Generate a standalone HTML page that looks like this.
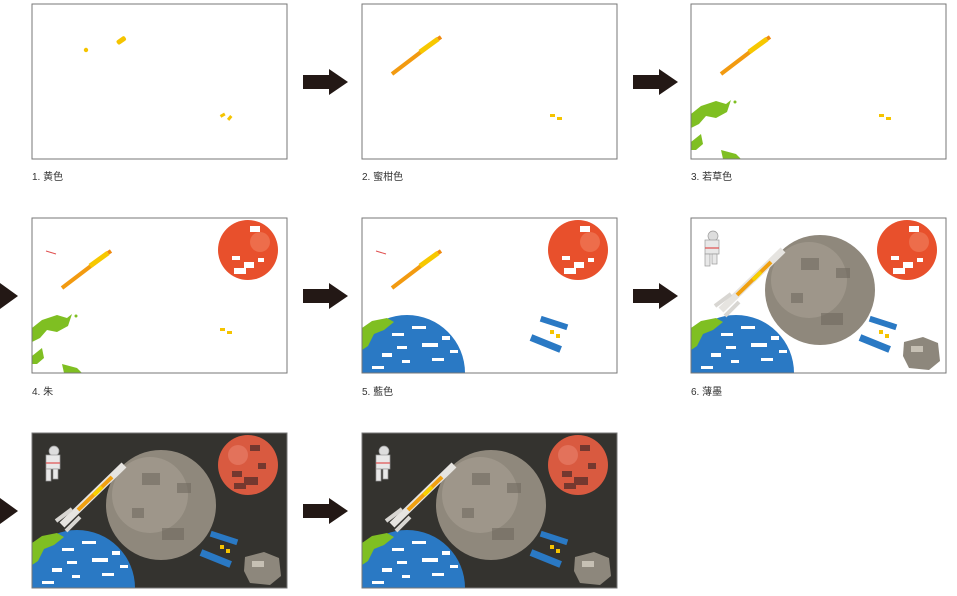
<!DOCTYPE html>
<html><head><meta charset="utf-8"><style>
html,body{margin:0;padding:0;background:#fff;width:957px;height:596px;overflow:hidden}
svg{display:block;position:absolute;left:0;top:0}
text{font-family:"Liberation Sans","Noto Sans CJK JP",sans-serif;font-size:10px;fill:#333}
</style></head><body>
<svg width="957" height="596" viewBox="0 0 957 596" xmlns="http://www.w3.org/2000/svg">
<defs>
<clipPath id="pc"><rect x="0" y="0" width="255" height="155"/></clipPath>
<g id="ybits">
<rect x="84" y="34" width="10" height="5" rx="2" fill="#f5c400" transform="rotate(-35 89 36)"/>
<circle cx="54" cy="46" r="2.2" fill="#f5c400"/>
<rect x="188" y="110" width="5" height="3" fill="#f5c400" transform="rotate(-30 190 111)"/>
<rect x="195" y="113" width="5" height="3" fill="#f5c400" transform="rotate(-50 197 114)"/>
</g>
<g id="rocketS">
<line x1="30" y1="70" x2="72" y2="38" stroke="#f29a10" stroke-width="4"/>
<line x1="58" y1="48" x2="76" y2="35" stroke="#f7c800" stroke-width="5"/>
<line x1="76" y1="35" x2="79" y2="33" stroke="#f08a10" stroke-width="4"/>
</g>
<g id="green">
<path d="M0 110 L10 102 L25 97 L35 100 L40 96 L36 108 L25 114 L15 112 L8 120 L0 124Z" fill="#7fbf22"/>
<path d="M0 138 L10 130 L12 140 L5 146 L0 146Z" fill="#7fbf22"/>
<path d="M30 146 L45 150 L50 155 L32 155Z" fill="#7fbf22"/>
<circle cx="44" cy="98" r="1.5" fill="#7fbf22"/>
</g>
<g id="mars">
<circle cx="216" cy="32" r="30" fill="#e8502c"/>
<path d="M200 38 h8 v4 h-8z M212 44 h10 v6 h-10z M226 40 h6 v4 h-6z M202 50 h12 v6 h-12z M218 8 h10 v6 h-10z" fill="#fff"/>
<circle cx="228" cy="24" r="10" fill="#f18a6a" opacity=".5"/>
</g>
<g id="marsD">
<circle cx="216" cy="32" r="30" fill="#d95a40"/>
<path d="M200 38 h10 v6 h-10z M212 44 h14 v8 h-14z M226 30 h8 v6 h-8z M202 50 h12 v6 h-12z M218 12 h10 v6 h-10z" fill="#5a2f2a" opacity=".8"/>
<circle cx="206" cy="22" r="10" fill="#ee8a75" opacity=".5"/>
</g>
<g id="earth">
<circle cx="45" cy="155" r="58" fill="#2a79c4"/>
<path d="M0 110 L10 103 L25 100 L32 104 L22 112 L12 116 L6 128 L0 132Z" fill="#7fbf22"/>
<path d="M30 115 h12 v3 h-12z M50 108 h14 v3 h-14z M60 125 h16 v4 h-16z M20 135 h10 v4 h-10z M70 140 h12 v3 h-12z M40 142 h8 v3 h-8z M80 118 h8 v4 h-8z M10 148 h12 v3 h-12z M88 132 h8 v3 h-8z M35 128 h10 v3 h-10z" fill="#fff"/>
</g>
<g id="sat">
<rect x="178" y="102" width="28" height="6" fill="#2a79c4" transform="rotate(18 192 105)"/>
<rect x="168" y="122" width="32" height="7" fill="#2a79c4" transform="rotate(22 184 125)"/>
<rect x="188" y="112" width="4" height="4" fill="#f5c400"/><rect x="194" y="116" width="4" height="4" fill="#f5c400"/>
</g>
<g id="moon">
<circle cx="129" cy="72" r="55" fill="#8f887c"/>
<circle cx="118" cy="62" r="38" fill="#a49d90" opacity=".7"/>
<path d="M110 40 h18 v12 h-18z M145 50 h14 v10 h-14z M100 75 h12 v10 h-12z M130 95 h22 v12 h-22z" fill="#6f695f" opacity=".6"/>
</g>
<g id="ast">
<path d="M213 124 L232 119 L247 125 L249 143 L238 152 L218 150 L212 138Z" fill="#8d877c"/>
<path d="M220 128 h12 v6 h-12z" fill="#c6c0b4"/>
</g>
<g id="rocketB">
<line x1="30" y1="92" x2="92" y2="32" stroke="#e6e4e0" stroke-width="7"/>
<line x1="46" y1="77" x2="80" y2="44" stroke="#f0a010" stroke-width="4"/>
<line x1="62" y1="62" x2="70" y2="54" stroke="#f7d000" stroke-width="4"/>
<line x1="24" y1="88" x2="40" y2="76" stroke="#d8d6d2" stroke-width="4"/>
<line x1="34" y1="98" x2="48" y2="84" stroke="#d8d6d2" stroke-width="4"/>
</g>
<g id="astro">
<circle cx="22" cy="18" r="5" fill="#ddd" stroke="#999" stroke-width=".7"/>
<rect x="14" y="22" width="14" height="14" fill="#e8e8e8" stroke="#999" stroke-width=".7"/>
<rect x="14" y="36" width="5" height="12" fill="#e8e8e8" stroke="#999" stroke-width=".7"/>
<rect x="21" y="36" width="5" height="10" fill="#e8e8e8" stroke="#999" stroke-width=".7"/>
<line x1="14" y1="30" x2="28" y2="30" stroke="#e05050" stroke-width="1.2"/>
</g>
<g id="full">
<use href="#moon"/><use href="#mars"/><use href="#earth"/><use href="#sat"/><use href="#ast"/><use href="#rocketB"/><use href="#astro"/>
</g>
<g id="fullD">
<use href="#moon"/><use href="#marsD"/><use href="#earth"/><use href="#sat"/><use href="#ast"/><use href="#rocketB"/><use href="#astro"/>
</g>
<path id="arrow" d="M0 -7 h26 v-6 l19 13 l-19 13 v-6 h-26z" fill="#231815"/>
</defs>

<g transform="translate(32,4)"><g clip-path="url(#pc)"><use href="#ybits"/></g><rect x="0" y="0" width="255" height="155" fill="none" stroke="#777"/></g>
<g transform="translate(362,4)"><g clip-path="url(#pc)"><use href="#rocketS"/><rect x="188" y="110" width="5" height="3" fill="#f5c400"/><rect x="195" y="113" width="5" height="3" fill="#f5c400"/></g><rect x="0" y="0" width="255" height="155" fill="none" stroke="#777"/></g>
<g transform="translate(691,4)"><g clip-path="url(#pc)"><use href="#rocketS"/><use href="#green"/><rect x="188" y="110" width="5" height="3" fill="#f5c400"/><rect x="195" y="113" width="5" height="3" fill="#f5c400"/></g><rect x="0" y="0" width="255" height="155" fill="none" stroke="#777"/></g>
<g transform="translate(32,218)"><g clip-path="url(#pc)"><use href="#rocketS"/><use href="#green"/><use href="#mars"/><line x1="14" y1="33" x2="24" y2="36" stroke="#e05050"/><rect x="188" y="110" width="5" height="3" fill="#f5c400"/><rect x="195" y="113" width="5" height="3" fill="#f5c400"/></g><rect x="0" y="0" width="255" height="155" fill="none" stroke="#777"/></g>
<g transform="translate(362,218)"><g clip-path="url(#pc)"><use href="#rocketS"/><use href="#mars"/><use href="#earth"/><use href="#sat"/><line x1="14" y1="33" x2="24" y2="36" stroke="#e05050"/></g><rect x="0" y="0" width="255" height="155" fill="none" stroke="#777"/></g>
<g transform="translate(691,218)"><g clip-path="url(#pc)"><use href="#full"/></g><rect x="0" y="0" width="255" height="155" fill="none" stroke="#777"/></g>
<g transform="translate(32,433)"><g clip-path="url(#pc)"><rect width="255" height="155" fill="#34332f"/><use href="#fullD"/></g><rect x="0" y="0" width="255" height="155" fill="none" stroke="#777"/></g>
<g transform="translate(362,433)"><g clip-path="url(#pc)"><rect width="255" height="155" fill="#34332f"/><use href="#fullD"/></g><rect x="0" y="0" width="255" height="155" fill="none" stroke="#777"/></g>

<use href="#arrow" transform="translate(303,82)"/>
<use href="#arrow" transform="translate(633,82)"/>
<use href="#arrow" transform="translate(303,296)"/>
<use href="#arrow" transform="translate(633,296)"/>
<use href="#arrow" transform="translate(303,511)"/>
<path d="M0 283 L18 296 L0 309Z" fill="#231815"/>
<path d="M0 498 L18 511 L0 524Z" fill="#231815"/>

<text x="32" y="180">1. 黄色</text>
<text x="362" y="180">2. 蜜柑色</text>
<text x="691" y="180">3. 若草色</text>
<text x="32" y="395">4. 朱</text>
<text x="362" y="395">5. 藍色</text>
<text x="691" y="395">6. 薄墨</text>
</svg>
</body></html>
